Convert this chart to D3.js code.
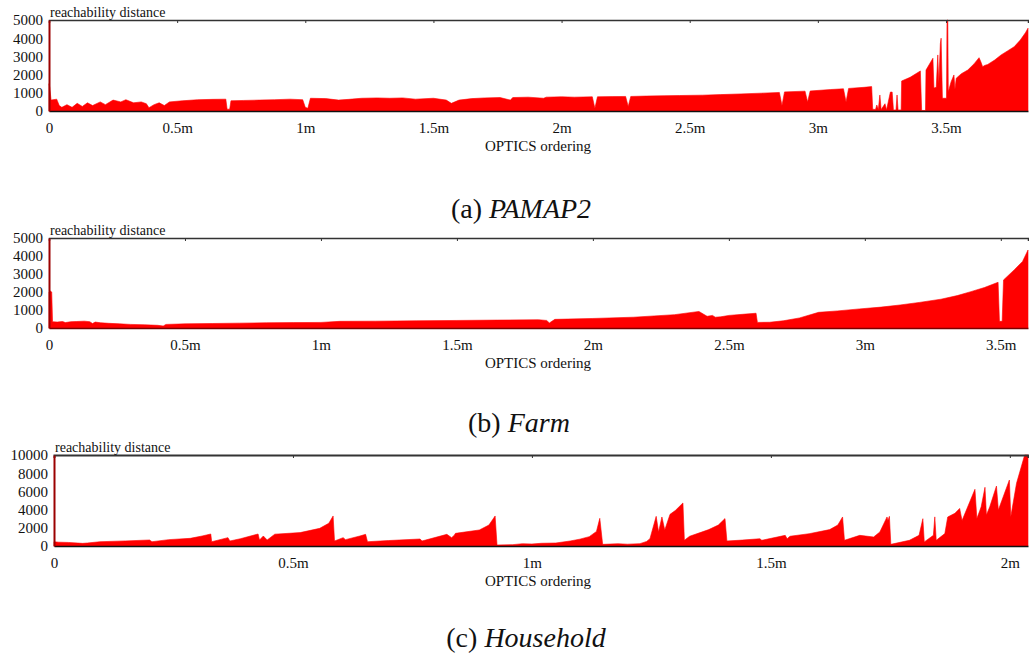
<!DOCTYPE html>
<html>
<head>
<meta charset="utf-8">
<script src="https://cdn.jsdelivr.net/npm/d3@7"></script>
<style>
  body { margin: 0; background: #fff; }
  svg, svg text { font-family: "Times New Roman", "Liberation Serif", Times, "Nimbus Roman", "DejaVu Serif", serif !important; }
</style>
</head>
<body>
<div class="chart-container"></div>
<script>
// reachability plots, positions in millions of points (OPTICS order)
const pamapPos = [0, 0.003, 0.008, 0.03, 0.04, 0.05, 0.07, 0.09, 0.11, 0.13, 0.15, 0.17, 0.2, 0.22, 0.25, 0.28, 0.3, 0.33, 0.36, 0.38, 0.39, 0.41, 0.43, 0.45, 0.47, 0.52, 0.58, 0.64, 0.69, 0.695, 0.705, 0.71, 0.76, 0.82, 0.88, 0.94, 0.99, 1.0, 1.01, 1.02, 1.08, 1.13, 1.17, 1.22, 1.28, 1.33, 1.38, 1.43, 1.5, 1.55, 1.57, 1.6, 1.65, 1.7, 1.76, 1.8, 1.81, 1.87, 1.93, 1.94, 2.0, 2.05, 2.12, 2.13, 2.14, 2.2, 2.25, 2.26, 2.27, 2.33, 2.4, 2.46, 2.55, 2.62, 2.7, 2.78, 2.85, 2.86, 2.87, 2.95, 2.96, 2.97, 3.05, 3.1, 3.11, 3.12, 3.18, 3.21, 3.214, 3.225, 3.23, 3.236, 3.242, 3.247, 3.262, 3.268, 3.283, 3.29, 3.295, 3.305, 3.309, 3.313, 3.325, 3.327, 3.36, 3.4, 3.405, 3.42, 3.422, 3.449, 3.453, 3.462, 3.468, 3.472, 3.478, 3.481, 3.486, 3.502, 3.504, 3.507, 3.509, 3.52, 3.531, 3.535, 3.54, 3.56, 3.585, 3.61, 3.629, 3.636, 3.643, 3.65, 3.663, 3.69, 3.715, 3.74, 3.766, 3.79, 3.81, 3.82];
const pamapVal = [1500, 1300, 600, 650, 300, 200, 350, 200, 420, 250, 450, 300, 500, 350, 600, 500, 620, 450, 500, 400, 180, 350, 450, 300, 500, 560, 620, 640, 650, 100, 100, 560, 580, 600, 620, 650, 620, 200, 150, 700, 680, 600, 640, 700, 720, 700, 720, 650, 700, 600, 420, 600, 680, 720, 740, 600, 740, 760, 700, 760, 780, 760, 780, 150, 780, 790, 800, 250, 800, 820, 840, 850, 870, 900, 940, 980, 1020, 300, 1050, 1090, 500, 1100, 1180, 1220, 500, 1240, 1300, 1340, 100, 80, 330, 80, 880, 80, 400, 60, 1040, 1040, 60, 60, 880, 60, 60, 1650, 1850, 2200, 30, 30, 2250, 2900, 1260, 1300, 3080, 1500, 3700, 4000, 700, 700, 5000, 5000, 1060, 1610, 1980, 1200, 1800, 2050, 2250, 2600, 2930, 2700, 2430, 2500, 2560, 2800, 3080, 3300, 3530, 3900, 4300, 4550];

const farmPos = [0, 0.005, 0.01, 0.013, 0.03, 0.05, 0.06, 0.08, 0.1, 0.13, 0.15, 0.16, 0.17, 0.19, 0.22, 0.26, 0.3, 0.35, 0.4, 0.42, 0.43, 0.5, 0.6, 0.7, 0.8, 0.9, 1.0, 1.07, 1.2, 1.35, 1.5, 1.65, 1.8, 1.83, 1.84, 1.86, 2.0, 2.15, 2.3, 2.39, 2.42, 2.44, 2.45, 2.47, 2.5, 2.55, 2.6, 2.605, 2.65, 2.7, 2.76, 2.83, 2.9, 2.98, 3.06, 3.13, 3.2, 3.28, 3.34, 3.39, 3.44, 3.49, 3.495, 3.505, 3.51, 3.55, 3.58, 3.6];
const farmVal = [2000, 2050, 2000, 350, 330, 360, 300, 350, 360, 380, 350, 250, 330, 290, 260, 230, 200, 180, 150, 110, 200, 230, 250, 270, 290, 300, 310, 370, 380, 400, 420, 440, 460, 420, 280, 480, 530, 600, 740, 920, 650, 700, 600, 620, 700, 760, 820, 310, 320, 400, 560, 870, 950, 1060, 1160, 1280, 1420, 1600, 1800, 2020, 2250, 2540, 370, 370, 2670, 3240, 3700, 4330];

const householdPos = [0, 0.01, 0.03, 0.06, 0.07, 0.096, 0.15, 0.2, 0.205, 0.24, 0.285, 0.31, 0.328, 0.33, 0.364, 0.368, 0.39, 0.427, 0.43, 0.438, 0.446, 0.462, 0.515, 0.556, 0.575, 0.584, 0.587, 0.605, 0.61, 0.64, 0.652, 0.656, 0.7, 0.766, 0.77, 0.822, 0.832, 0.838, 0.84, 0.89, 0.91, 0.923, 0.927, 0.96, 0.98, 1.0, 1.02, 1.05, 1.08, 1.1, 1.12, 1.135, 1.142, 1.148, 1.18, 1.2, 1.226, 1.24, 1.247, 1.26, 1.265, 1.272, 1.278, 1.289, 1.3, 1.316, 1.319, 1.33, 1.37, 1.39, 1.404, 1.408, 1.44, 1.477, 1.481, 1.53, 1.534, 1.54, 1.58, 1.623, 1.64, 1.65, 1.654, 1.686, 1.715, 1.728, 1.743, 1.745, 1.748, 1.751, 1.79, 1.81, 1.818, 1.821, 1.84, 1.843, 1.846, 1.864, 1.87, 1.885, 1.895, 1.9, 1.927, 1.931, 1.94, 1.948, 1.951, 1.958, 1.972, 1.976, 1.999, 2.002, 2.014, 2.028, 2.031, 2.038];
const householdVal = [470, 420, 390, 290, 330, 470, 560, 660, 470, 700, 840, 1100, 1320, 470, 920, 550, 800, 1320, 660, 1100, 660, 1300, 1470, 1940, 2500, 3300, 550, 920, 700, 1100, 1280, 470, 600, 770, 550, 1280, 920, 1210, 1390, 1760, 2300, 3300, 110, 150, 250, 220, 300, 330, 550, 750, 1030, 1600, 3040, 180, 250, 200, 260, 500, 810, 3260, 1540, 3190, 1760, 3480, 3900, 4730, 630, 1070, 1800, 2300, 3010, 550, 650, 800, 630, 1170, 800, 1070, 1350, 1800, 2300, 3190, 630, 1170, 990, 1540, 3190, 2800, 3260, 180, 630, 1170, 3000, 450, 1170, 3200, 630, 1360, 3190, 3590, 4130, 2800, 6230, 3010, 4300, 6450, 3410, 4320, 6590, 3960, 7250, 3220, 6890, 9450, 10000, 10000];

const xTicksLong = [0, 0.5, 1, 1.5, 2, 2.5, 3, 3.5];
const xTicksShort = [0, 0.5, 1, 1.5, 2];
const yTicks5k = [0, 1000, 2000, 3000, 4000, 5000];
const yTicks10k = [0, 2000, 4000, 6000, 8000, 10000];
const captions = [["(a) ", "PAMAP2"], ["(b) ", "Farm"], ["(c) ", "Household"]];

const width = 1029, height = 658;

const svg = d3.select('.chart-container').append('svg')
    .attr('width', width)
    .attr('height', height);

function drawPanel(pos, val, o) {
    const x = d3.scaleLinear().domain([0, o.xMax]).range([o.left, o.right]);
    const y = d3.scaleLinear().domain([0, o.yMax]).range([o.bottom, o.top]);
    const g = svg.append('g');

    const data = pos.map((p, i) => [p, val[i]]);
    const area = d3.area()
        .x(d => x(d[0]))
        .y0(o.bottom)
        .y1(d => y(Math.min(d[1], o.yMax)));

    g.append('path')
        .datum(data)
        .attr('d', area)
        .attr('fill', '#ff0000')
        .attr('stroke', '#ff0000')
        .attr('stroke-width', 0.6);

    // top frame with inward ticks
    g.append('g')
        .attr('transform', `translate(0,${o.top})`)
        .call(d3.axisTop(x).tickValues(o.xTicks).tickSize(-3).tickFormat(''))
        .call(a => a.select('.domain').attr('stroke', '#333').attr('stroke-width', o.topW))
        .call(a => a.selectAll('.tick line').attr('stroke', '#333'));

    // bottom axis
    g.append('g')
        .attr('transform', `translate(0,${o.bottom})`)
        .call(d3.axisBottom(x).tickValues(o.xTicks).tickSize(0).tickPadding(11)
            .tickFormat(d => d === 0 ? '0' : d + 'm'))
        .call(a => a.select('.domain').attr('stroke', o.bottomColor).attr('stroke-width', 1.5))
        .call(a => a.selectAll('text').attr('font-size', 15).attr('fill', '#111'));

    // left axis
    g.append('g')
        .attr('transform', `translate(${o.left},0)`)
        .call(d3.axisLeft(y).tickValues(o.yTicks).tickSize(0).tickPadding(6).tickFormat(d3.format('d')))
        .call(a => a.select('.domain').attr('stroke', '#9b0000').attr('stroke-width', 2))
        .call(a => a.selectAll('text').attr('font-size', 15).attr('fill', '#111'));

    g.append('text')
        .attr('x', o.left + 1)
        .attr('y', o.top - 3)
        .attr('font-size', 14)
        .attr('fill', '#111')
        .text('reachability distance');

    g.append('text')
        .attr('x', 538)
        .attr('y', o.bottom + 40)
        .attr('text-anchor', 'middle')
        .attr('font-size', 15)
        .attr('fill', '#111')
        .text('OPTICS ordering');

    const cap = g.append('text')
        .attr('x', o.capX)
        .attr('y', o.capY)
        .attr('text-anchor', 'middle')
        .attr('font-size', 28)
        .attr('fill', '#111');
    cap.append('tspan').text(o.caption[0]);
    cap.append('tspan').attr('font-style', 'italic').text(o.caption[1]);
}

drawPanel(pamapPos, pamapVal, {
    left: 49, right: 1028, top: 20, bottom: 111, xMax: 3.82, yMax: 5000,
    xTicks: xTicksLong, yTicks: yTicks5k, topW: 1.5, bottomColor: '#111',
    caption: captions[0], capX: 521, capY: 218
});
drawPanel(farmPos, farmVal, {
    left: 49, right: 1028, top: 238, bottom: 328, xMax: 3.6, yMax: 5000,
    xTicks: xTicksLong, yTicks: yTicks5k, topW: 1.5, bottomColor: '#7a0000',
    caption: captions[1], capX: 519, capY: 432
});
drawPanel(householdPos, householdVal, {
    left: 54, right: 1028, top: 455, bottom: 546, xMax: 2.038, yMax: 10000,
    xTicks: xTicksShort, yTicks: yTicks10k, topW: 2, bottomColor: '#111',
    caption: captions[2], capX: 526, capY: 647
});
</script>
</body>
</html>
